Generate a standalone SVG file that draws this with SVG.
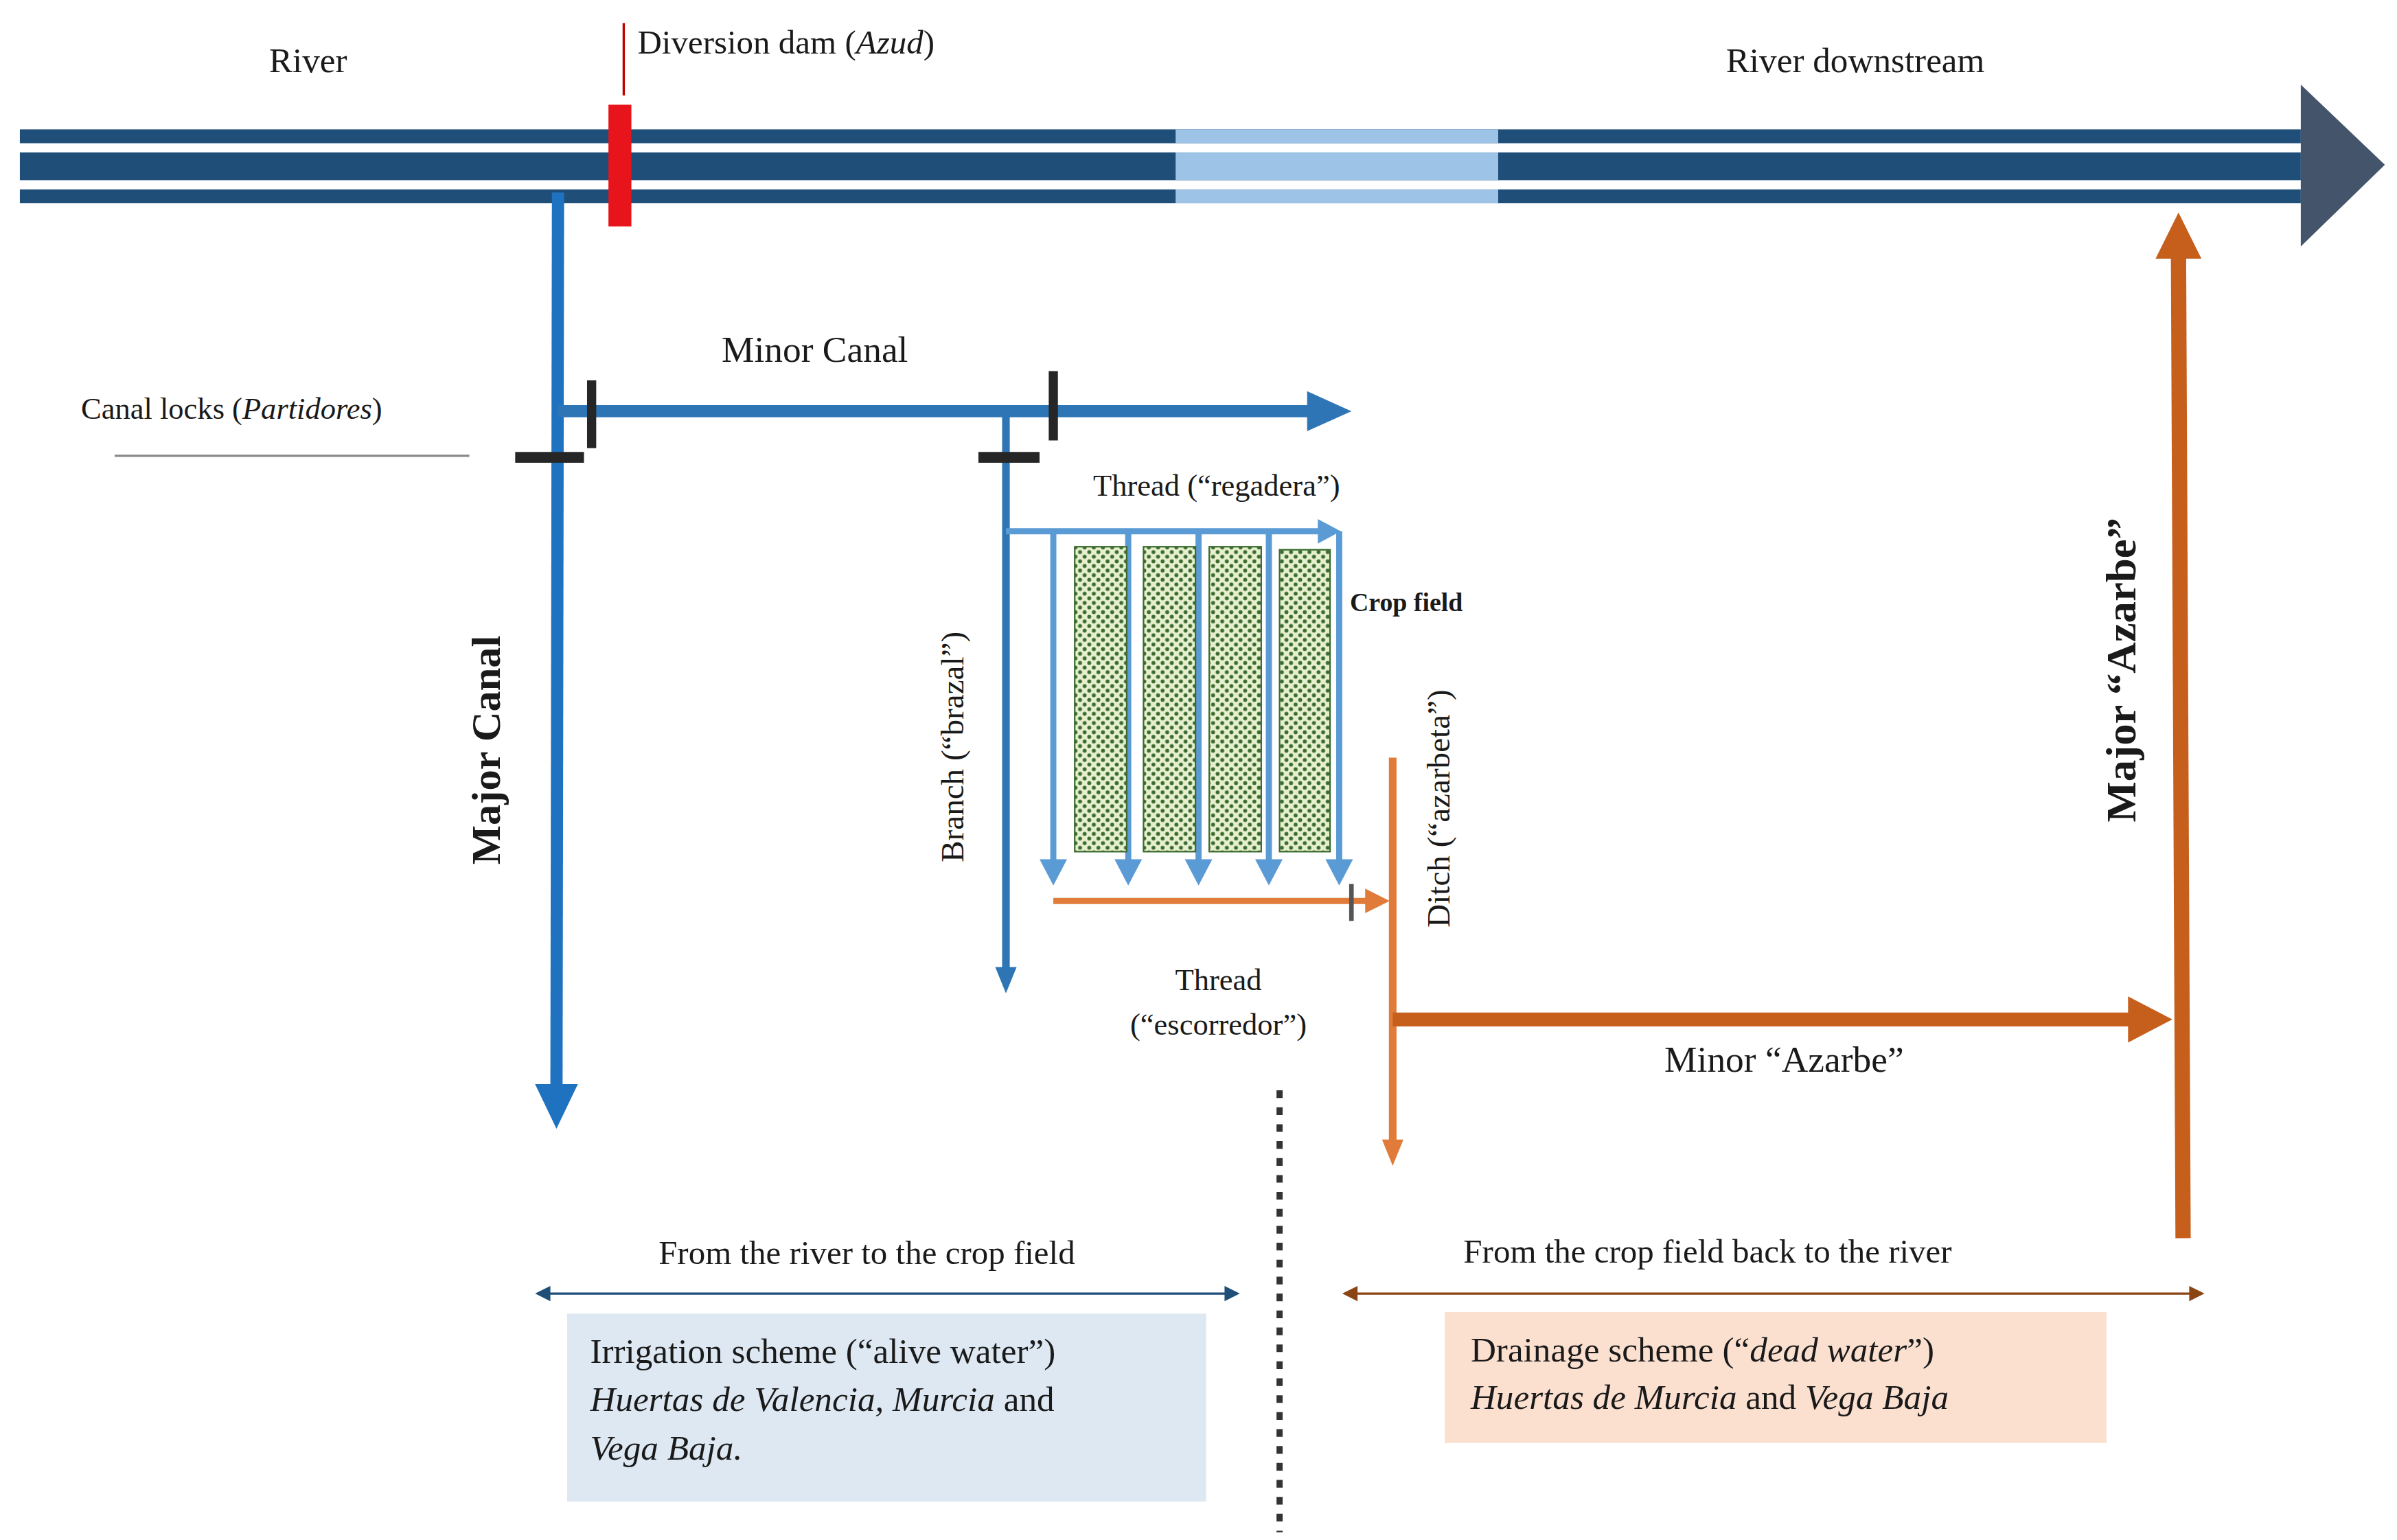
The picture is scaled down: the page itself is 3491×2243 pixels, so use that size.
<svg xmlns="http://www.w3.org/2000/svg" width="3491" height="2243" viewBox="0 0 3491 2243">
<style>
text{font-family:"Liberation Serif","Times New Roman",serif;fill:#1a1a1a;font-size:22px}
.it{font-style:italic}
.b{font-weight:bold}
.c{text-anchor:middle}
</style>
<defs>
<pattern id="dots" width="6" height="6" patternUnits="userSpaceOnUse">
<rect width="6" height="6" fill="#e6f0cf"/>
<circle cx="1.5" cy="1.5" r="1.3" fill="#3b6b2e"/>
<circle cx="4.5" cy="4.5" r="1.3" fill="#3b6b2e"/>
</pattern>
</defs>
<rect width="3491" height="2243" fill="#fff"/>
<g transform="scale(2.2265,2.243)">
<g id="river">
<rect x="13" y="84" width="1492" height="9" fill="#1f4e79"/>
<rect x="13" y="99" width="1492" height="18" fill="#1f4e79"/>
<rect x="13" y="123" width="1492" height="9" fill="#1f4e79"/>
<rect x="769" y="84" width="211" height="9" fill="#9dc3e6"/>
<rect x="769" y="99" width="211" height="18" fill="#9dc3e6"/>
<rect x="769" y="123" width="211" height="9" fill="#9dc3e6"/>
<polygon points="1505,55 1560,107 1505,160 1505,55" fill="#44546a"/>
<text x="176" y="47" style="font-size:23px">River</text>
<text x="1129" y="47" style="font-size:23px">River  downstream</text>
</g>
<g id="dam">
<line x1="408" y1="15" x2="408" y2="62" stroke="#c00000" stroke-width="1.5"/>
<rect x="398" y="68" width="15" height="79" fill="#e8141b"/>
<text x="417" y="35">Diversion dam (<tspan class="it">Azud</tspan>)</text>
</g>
<g id="connectors">
<line x1="365" y1="125" x2="364" y2="708" stroke="#1f72c0" stroke-width="8"/>
<polygon points="350,704 378,704 364,733" fill="#1f72c0"/>
<line x1="365" y1="267" x2="856" y2="267" stroke="#2e75b6" stroke-width="8"/>
<polygon points="855,254 884,267 855,280" fill="#2e75b6"/>
<line x1="658" y1="267" x2="658" y2="630" stroke="#2e75b6" stroke-width="5"/>
<polygon points="651,628 665,628 658,645" fill="#2e75b6"/>
<line x1="658" y1="345" x2="864" y2="345" stroke="#5b9bd5" stroke-width="4"/>
<polygon points="862,337 877,345 862,353" fill="#5b9bd5"/>
<g stroke="#5b9bd5" stroke-width="4">
<line x1="689" y1="345" x2="689" y2="562"/>
<line x1="738" y1="345" x2="738" y2="562"/>
<line x1="784" y1="345" x2="784" y2="562"/>
<line x1="830" y1="345" x2="830" y2="562"/>
<line x1="876" y1="345" x2="876" y2="562"/>
</g>
<g fill="#5b9bd5">
<polygon points="680,558 698,558 689,575"/>
<polygon points="729,558 747,558 738,575"/>
<polygon points="775,558 793,558 784,575"/>
<polygon points="821,558 839,558 830,575"/>
<polygon points="867,558 885,558 876,575"/>
</g>
<line x1="689" y1="585" x2="895" y2="585" stroke="#e07b39" stroke-width="4"/>
<polygon points="893,577 909,585 893,593" fill="#e07b39"/>
<line x1="884" y1="574" x2="884" y2="598" stroke="#555" stroke-width="3"/>
<line x1="911" y1="492" x2="911" y2="742" stroke="#e07b39" stroke-width="5"/>
<polygon points="904,740 918,740 911,757" fill="#e07b39"/>
<line x1="911" y1="662" x2="1395" y2="662" stroke="#c65f1c" stroke-width="9"/>
<polygon points="1392,647 1421,662 1392,677" fill="#c65f1c"/>
<line x1="1428" y1="804" x2="1425" y2="165" stroke="#c65f1c" stroke-width="10"/>
<polygon points="1410,168 1425,138 1440,168" fill="#c65f1c"/>
<line x1="837" y1="708" x2="837" y2="995" stroke="#333" stroke-width="4" stroke-dasharray="5,6"/>
<line x1="358" y1="840" x2="802" y2="840" stroke="#1f4e79" stroke-width="1.5"/>
<polygon points="350,840 360,835 360,845" fill="#1f4e79"/>
<polygon points="811,840 801,835 801,845" fill="#1f4e79"/>
<line x1="886" y1="840" x2="1434" y2="840" stroke="#8b4513" stroke-width="1.5"/>
<polygon points="878,840 888,835 888,845" fill="#8b4513"/>
<polygon points="1442,840 1432,835 1432,845" fill="#8b4513"/>
</g>
<g id="locks" stroke="#262626">
<line x1="387" y1="247" x2="387" y2="291" stroke-width="6"/>
<line x1="337" y1="297" x2="382" y2="297" stroke-width="7"/>
<line x1="689" y1="241" x2="689" y2="286" stroke-width="6"/>
<line x1="640" y1="297" x2="680" y2="297" stroke-width="7"/>
<line x1="75" y1="296" x2="307" y2="296" stroke="#888" stroke-width="1.5"/>
</g>
<g id="locks-label">
<text x="53" y="272" style="font-size:20px">Canal locks (<tspan class="it">Partidores</tspan>)</text>
</g>
<g id="crop-field" fill="url(#dots)" stroke="#3b6b2e" stroke-width="1">
<rect x="703" y="355" width="34" height="198"/>
<rect x="748" y="355" width="34" height="198"/>
<rect x="791" y="355" width="34" height="198"/>
<rect x="837" y="357" width="33" height="196"/>
</g>
<g id="labels">
<text x="472" y="235" style="font-size:24px">Minor  Canal</text>
<text x="715" y="322" style="font-size:20px">Thread (“regadera”)</text>
<text x="883" y="397" class="b" style="font-size:17px">Crop field</text>
<text transform="translate(327,487) rotate(-90)" class="c b" style="font-size:27px">Major  Canal</text>
<text transform="translate(630,485) rotate(-90)" class="c" style="font-size:21px">Branch (“brazal”)</text>
<text transform="translate(948,525) rotate(-90)" class="c" style="font-size:21px">Ditch (“azarbeta”)</text>
<text transform="translate(1397,435) rotate(-90)" class="c b" style="font-size:28px">Major  “Azarbe”</text>
<text x="797" y="643" class="c" style="font-size:20px">Thread</text>
<text x="797" y="672" class="c" style="font-size:20px">(“escorredor”)</text>
<text x="1167" y="696" class="c" style="font-size:24px">Minor  “Azarbe”</text>
<text x="567" y="821" class="c">From the river to the crop field</text>
<text x="1117" y="820" class="c">From the crop field back to the river</text>
</g>
<g id="irrigation-box">
<rect x="371" y="853" width="418" height="122" fill="#dde8f3"/>
<text x="386" y="885" style="font-size:23px">Irrigation  scheme (“alive water”)</text>
<text x="386" y="916" style="font-size:23px"><tspan class="it">Huertas de Valencia, Murcia</tspan> and</text>
<text x="386" y="948" class="it" style="font-size:23px">Vega Baja.</text>
</g>
<g id="drainage-box">
<rect x="945" y="852" width="433" height="85" fill="#fbe0d0"/>
<text x="962" y="884" style="font-size:23px">Drainage scheme (“<tspan class="it">dead water</tspan>”)</text>
<text x="962" y="915" style="font-size:23px"><tspan class="it">Huertas de Murcia</tspan> and <tspan class="it">Vega Baja</tspan></text>
</g>
</g>
</svg>
